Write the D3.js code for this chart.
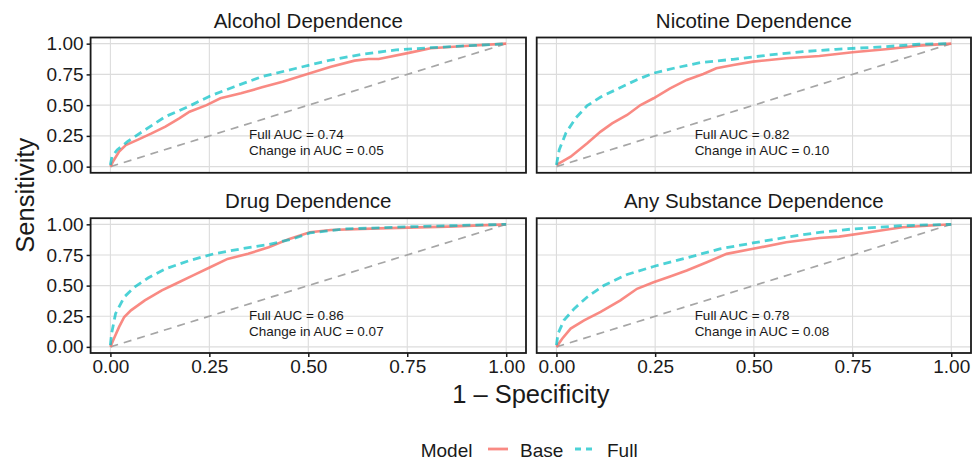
<!DOCTYPE html>
<html>
<head>
<meta charset="utf-8">
<script src="https://cdn.jsdelivr.net/npm/d3@7"></script>
<style>
  body { margin: 0; background: #fff; }
  text { font-family: "Liberation Sans", Arial, Helvetica, sans-serif; fill: #1a1a1a; }
</style>
</head>
<body>
<div id="chart"></div>
<script>
// panel titles and annotation values
var panelNames = ["Alcohol Dependence", "Nicotine Dependence", "Drug Dependence", "Any Substance Dependence"];
var fullAuc = ["0.74", "0.82", "0.86", "0.78"];
var changeAuc = ["0.05", "0.10", "0.07", "0.08"];
var tickValues = [0, 0.25, 0.5, 0.75, 1];
var tickLabels = ["0.00", "0.25", "0.50", "0.75", "1.00"];
var modelNames = ["Base", "Full"];

// ROC curves: [1 - specificity, sensitivity]
var alcoholBase = [[0,0],[0.009,0.054],[0.022,0.122],[0.039,0.176],[0.07,0.22],[0.104,0.27],[0.139,0.325],[0.174,0.393],[0.2,0.447],[0.243,0.5],[0.278,0.556],[0.33,0.596],[0.383,0.645],[0.435,0.691],[0.504,0.759],[0.557,0.813],[0.617,0.862],[0.652,0.875],[0.678,0.875],[0.757,0.927],[0.809,0.962],[0.896,0.981],[1,1]];
var alcoholFull = [[0,0.014],[0.004,0.081],[0.017,0.136],[0.043,0.203],[0.087,0.298],[0.139,0.407],[0.2,0.493],[0.252,0.575],[0.313,0.65],[0.383,0.732],[0.47,0.8],[0.557,0.867],[0.635,0.913],[0.722,0.949],[0.809,0.967],[0.922,0.986],[1,1]];
var nicotineBase = [[0,0.014],[0.036,0.081],[0.078,0.19],[0.112,0.285],[0.141,0.352],[0.179,0.42],[0.213,0.501],[0.246,0.556],[0.288,0.637],[0.33,0.705],[0.372,0.753],[0.405,0.8],[0.448,0.827],[0.498,0.854],[0.582,0.881],[0.666,0.9],[0.75,0.93],[0.834,0.954],[0.918,0.984],[1,1]];
var nicotineFull = [[0,0.014],[0.007,0.136],[0.024,0.274],[0.049,0.396],[0.078,0.496],[0.112,0.566],[0.154,0.631],[0.204,0.707],[0.246,0.76],[0.297,0.8],[0.364,0.846],[0.448,0.873],[0.54,0.908],[0.624,0.935],[0.708,0.954],[0.834,0.976],[0.918,0.995],[1,1]];
var drugBase = [[0,0],[0.009,0.068],[0.022,0.163],[0.035,0.244],[0.052,0.298],[0.087,0.379],[0.13,0.461],[0.165,0.515],[0.209,0.583],[0.252,0.65],[0.296,0.718],[0.348,0.759],[0.4,0.813],[0.452,0.881],[0.504,0.935],[0.557,0.954],[0.678,0.967],[0.852,0.981],[1,1]];
var drugFull = [[0,0.014],[0.003,0.108],[0.013,0.271],[0.035,0.407],[0.061,0.488],[0.096,0.564],[0.139,0.637],[0.2,0.705],[0.261,0.759],[0.33,0.8],[0.4,0.835],[0.461,0.881],[0.504,0.93],[0.591,0.962],[0.765,0.981],[1,1]];
var anyBase = [[0,0],[0.015,0.068],[0.036,0.149],[0.07,0.217],[0.112,0.285],[0.162,0.379],[0.204,0.474],[0.246,0.528],[0.288,0.575],[0.33,0.623],[0.381,0.691],[0.431,0.759],[0.498,0.8],[0.582,0.854],[0.666,0.889],[0.716,0.9],[0.792,0.935],[0.876,0.976],[1,1]];
var anyFull = [[0,0.014],[0.004,0.108],[0.019,0.217],[0.045,0.312],[0.078,0.407],[0.12,0.501],[0.179,0.591],[0.246,0.656],[0.33,0.726],[0.414,0.8],[0.498,0.848],[0.582,0.894],[0.666,0.935],[0.75,0.962],[0.876,0.989],[1,1]];

var baseCurves = [alcoholBase, nicotineBase, drugBase, anyBase];
var fullCurves = [alcoholFull, nicotineFull, drugFull, anyFull];

var width = 976, height = 464;
var baseColor = "#F8766D", fullColor = "#00BFC4";

var svg = d3.select("#chart").append("svg")
  .attr("width", width)
  .attr("height", height);

// panel boxes: columns and rows in pixels
var cols = [[90.6, 526], [536.7, 971]];
var rows = [[37.5, 172.8], [218.2, 353]];

var line = d3.line();

panelNames.forEach(function(name, i){
  var c = cols[i % 2], r = rows[Math.floor(i / 2)];
  var x = d3.scaleLinear().domain([-0.05, 1.05]).range(c);
  var y = d3.scaleLinear().domain([-0.05, 1.05]).range([r[1], r[0]]);
  var g = svg.append("g");

  // grid
  g.selectAll(".gx").data(tickValues).enter().append("line")
    .attr("x1", function(d){ return x(d); }).attr("x2", function(d){ return x(d); })
    .attr("y1", r[0]).attr("y2", r[1])
    .attr("stroke", "#dcdcdc").attr("stroke-width", 1.1);
  g.selectAll(".gy").data(tickValues).enter().append("line")
    .attr("y1", function(d){ return y(d); }).attr("y2", function(d){ return y(d); })
    .attr("x1", c[0]).attr("x2", c[1])
    .attr("stroke", "#dcdcdc").attr("stroke-width", 1.1);

  // chance diagonal
  g.append("path")
    .attr("d", line([[x(0), y(0)], [x(1), y(1)]]))
    .attr("fill", "none").attr("stroke", "#a6a6a6")
    .attr("stroke-width", 1.7).attr("stroke-dasharray", "8,6");

  g.append("path")
    .attr("d", line(baseCurves[i].map(function(p){ return [x(p[0]), y(p[1])]; })))
    .attr("fill", "none").attr("stroke", baseColor).attr("stroke-opacity", 0.85)
    .attr("stroke-width", 2.6);
  g.append("path")
    .attr("d", line(fullCurves[i].map(function(p){ return [x(p[0]), y(p[1])]; })))
    .attr("fill", "none").attr("stroke", fullColor).attr("stroke-opacity", 0.7)
    .attr("stroke-width", 2.8).attr("stroke-dasharray", "8,5");

  // border
  g.append("rect")
    .attr("x", c[0]).attr("y", r[0])
    .attr("width", c[1] - c[0]).attr("height", r[1] - r[0])
    .attr("fill", "none").attr("stroke", "#1a1a1a").attr("stroke-width", 1.8);

  // strip title
  g.append("text")
    .attr("x", (c[0] + c[1]) / 2).attr("y", r[0] - 10)
    .attr("text-anchor", "middle").style("font-size", "20.5px")
    .text(name);

  // annotation, two lines
  var ann = g.append("text").style("font-size", "13.5px");
  ann.append("tspan").attr("x", x(0.35)).attr("y", y(0.2) - 2.6).text("Full AUC = " + fullAuc[i]);
  ann.append("tspan").attr("x", x(0.35)).attr("y", y(0.2) + 13.2).text("Change in AUC = " + changeAuc[i]);

  // axes
  if (i % 2 == 0) {
    var ay = g.append("g").attr("transform", "translate(" + c[0] + ",0)")
      .call(d3.axisLeft(y).tickValues(tickValues)
        .tickFormat(function(d, k){ return tickLabels[k]; })
        .tickSize(4).tickPadding(3));
    ay.select(".domain").remove();
    ay.selectAll("line").attr("stroke", "#1a1a1a").attr("stroke-width", 1.5);
    ay.selectAll("text").style("font-size", "19px").attr("fill", "#1a1a1a")
      .attr("font-family", null);
  }
  if (Math.floor(i / 2) == 1) {
    var ax = g.append("g").attr("transform", "translate(0," + r[1] + ")")
      .call(d3.axisBottom(x).tickValues(tickValues)
        .tickFormat(function(d, k){ return tickLabels[k]; })
        .tickSize(4).tickPadding(3));
    ax.select(".domain").remove();
    ax.selectAll("line").attr("stroke", "#1a1a1a").attr("stroke-width", 1.5);
    ax.selectAll("text").style("font-size", "19px").attr("fill", "#1a1a1a")
      .attr("font-family", null);
  }
});

// axis titles
svg.append("text")
  .attr("x", (cols[0][0] + cols[1][1]) / 2).attr("y", 402.5)
  .attr("text-anchor", "middle").style("font-size", "25.5px")
  .text("1 \u2013 Specificity");
svg.append("text")
  .attr("transform", "translate(34," + (rows[0][0] + rows[1][1]) / 2 + ") rotate(-90)")
  .attr("text-anchor", "middle").style("font-size", "25.5px")
  .text("Sensitivity");

// legend
var leg = svg.append("g");
leg.append("text").attr("x", 420.7).attr("y", 456.5).style("font-size", "19px").text("Model");
var keyX = [488, 575];
modelNames.forEach(function(m, k){
  leg.append("line")
    .attr("x1", keyX[k]).attr("x2", keyX[k] + 20)
    .attr("y1", 449).attr("y2", 449)
    .attr("stroke", k == 0 ? baseColor : fullColor)
    .attr("stroke-opacity", k == 0 ? 0.85 : 0.7)
    .attr("stroke-width", 2.8)
    .attr("stroke-dasharray", k == 0 ? null : "6,5");
  leg.append("text").attr("x", keyX[k] + 32).attr("y", 456.5)
    .style("font-size", "19px").text(m);
});
</script>
</body>
</html>
